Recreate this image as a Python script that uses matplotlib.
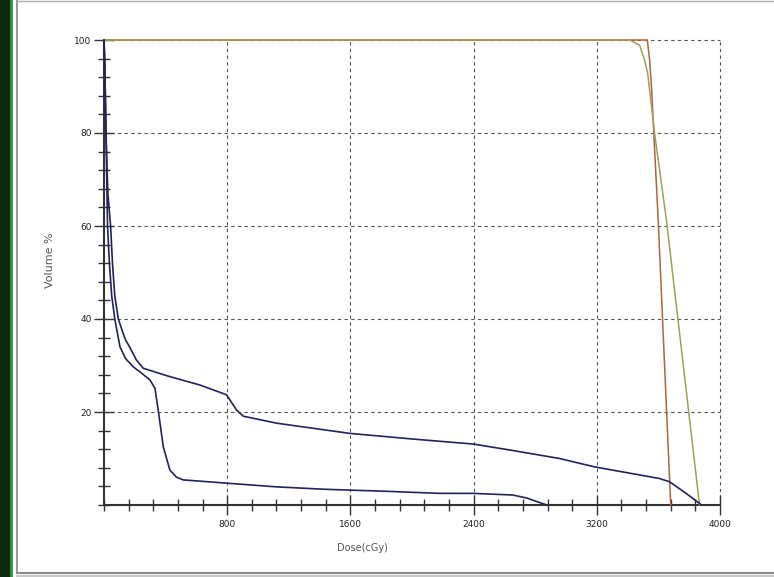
import matplotlib
matplotlib.use("Agg")
import matplotlib.pyplot as plt
from matplotlib.patches import Rectangle
from matplotlib.lines import Line2D
from matplotlib.ticker import MultipleLocator

# DVH curves (dose in cGy, volume in %)
upper_dose = [0, 5, 13, 25, 43, 55, 70, 93, 117, 140, 166, 210, 255, 428, 623, 796, 861, 904,
              1120, 1596, 2000, 2400, 2640, 2958, 3185, 3607, 3672, 3780, 3880]
upper_vol = [100, 95, 80, 67, 60, 52, 45, 40, 37.6, 35.5, 34, 31.2, 29.4, 27.6, 25.8, 23.7, 20.4, 19.1,
             17.6, 15.4, 14.2, 13.1, 11.8, 10.0, 8.2, 5.7, 5.0, 2.5, 0.0]

lower_dose = [0, 5, 13, 23, 35, 50, 71, 104, 140, 190, 250, 298, 331, 352, 385, 428, 470, 514,
              796, 1120, 1423, 1596, 1790, 2180, 2395, 2654, 2745, 2875]
lower_vol = [100, 95, 80, 60, 52, 45, 39.8, 34, 31.5, 29.7, 28.2, 26.9, 25.1, 20.4, 12.5, 7.5, 6.0, 5.4,
             4.7, 3.9, 3.4, 3.2, 3.0, 2.5, 2.5, 2.15, 1.5, 0.0]

olive_dose = [0, 3413, 3478, 3510, 3530, 3575, 3652, 3867]
olive_vol = [100, 100, 98.9, 95.7, 92.9, 80, 61.3, 0]

brown_dose = [0, 3528, 3543, 3555, 3599, 3680]
brown_vol = [100, 100, 95.7, 90, 61, 0]

x_ticks = [800, 1600, 2400, 3200, 4000]
y_ticks = [20, 40, 60, 80, 100]

W, H = 774, 577
fig = plt.figure(figsize=(W / 100, H / 100), dpi=100, facecolor="white")

# window frame bits of the screenshot
fig.patches.append(Rectangle((0, 0), 12 / W, 1, transform=fig.transFigure,
                             facecolor="#0b2a10", edgecolor="none", zorder=0))
fig.lines.append(Line2D([11 / W, 11 / W], [0, 1], transform=fig.transFigure,
                        color="#2f9a3a", lw=2))
fig.lines.append(Line2D([17 / W, 17 / W], [4 / H, 1], transform=fig.transFigure,
                        color="#9a9a9a", lw=1.5))
fig.lines.append(Line2D([17 / W, 1], [4 / H, 4 / H], transform=fig.transFigure,
                        color="#8a8a8a", lw=1.5))
fig.lines.append(Line2D([17 / W, 1], [1.5 / H, 1.5 / H], transform=fig.transFigure,
                        color="#c8c8c8", lw=1.5))
fig.lines.append(Line2D([17 / W, 1], [(H - 1) / H, (H - 1) / H], transform=fig.transFigure,
                        color="#b0b0b0", lw=1))

ax = fig.add_axes([104 / W, 1 - 505 / H, 616 / W, 465 / H])

for d, v, c, w in [(brown_dose, brown_vol, "#b0623c", 1.1),
                   (olive_dose, olive_vol, "#a39e58", 1.1),
                   (upper_dose, upper_vol, "#22225e", 1.2),
                   (lower_dose, lower_vol, "#22225e", 1.2)]:
    ln, = ax.plot(d, v, color=c, lw=w, zorder=4)
    ln.set_clip_on(False)

ax.set_xlim(0, 4000)
ax.set_ylim(0, 100)
ax.set_xticks(x_ticks)
ax.set_yticks(y_ticks)
ax.xaxis.set_minor_locator(MultipleLocator(160))
ax.yaxis.set_minor_locator(MultipleLocator(4))

ax.grid(True, which="major", color="#555555", linestyle=(0, (3, 3)), lw=0.8)
ax.set_axisbelow(True)
for gl in ax.get_xgridlines() + ax.get_ygridlines():
    gl.set_clip_on(False)

for s in ("top", "right"):
    ax.spines[s].set_visible(False)
for s in ("left", "bottom"):
    ax.spines[s].set_color("#333333")
    ax.spines[s].set_linewidth(1.5)

ax.tick_params(which="major", direction="inout", length=14, width=1.0,
               colors="#333333", labelsize=6.5, pad=2)
ax.tick_params(which="minor", direction="inout", length=9, width=1.0,
               colors="#333333")
ax.tick_params(axis="x", pad=4)
for lbl in ax.get_xticklabels() + ax.get_yticklabels():
    lbl.set_color("#222222")

fig.text(50 / W, 1 - 260 / H, "Volume %", rotation=90, ha="center", va="center",
         fontsize=8, color="#555555")
fig.text(362 / W, 1 - 548 / H, "Dose(cGy)", ha="center", va="center",
         fontsize=7, color="#555555")

fig.savefig("out.png", dpi=100, facecolor="white")
